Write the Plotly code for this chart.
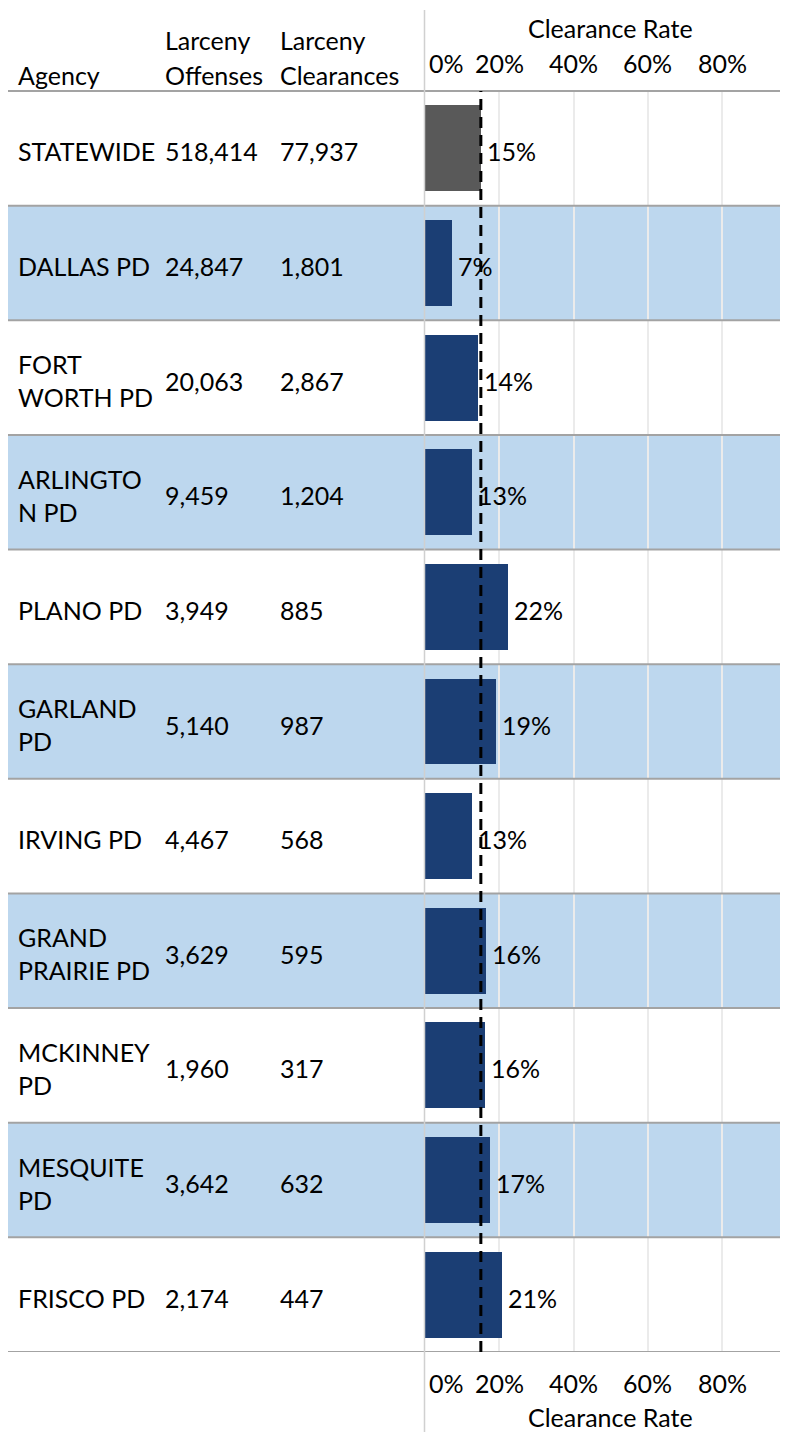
import plotly.graph_objects as go

# ---------------- data ----------------
agencies = ["STATEWIDE", "DALLAS PD", "FORT<br>WORTH PD", "ARLINGTO<br>N PD", "PLANO PD",
            "GARLAND<br>PD", "IRVING PD", "GRAND<br>PRAIRIE PD", "MCKINNEY<br>PD",
            "MESQUITE<br>PD", "FRISCO PD"]
offenses = [518414, 24847, 20063, 9459, 3949, 5140, 4467, 3629, 1960, 3642, 2174]
clearances = [77937, 1801, 2867, 1204, 885, 987, 568, 595, 317, 632, 447]
rates = [15.0, 7.2, 14.3, 12.7, 22.4, 19.2, 12.7, 16.4, 16.2, 17.4, 20.6]
rate_labels = ["15%", "7%", "14%", "13%", "22%", "19%", "13%", "16%", "16%", "17%", "21%"]
statewide_rate = 15.03
tick_vals = [0, 20, 40, 60, 80]
tick_labels = ["0%", "20%", "40%", "60%", "80%"]
axis_title = "Clearance Rate"
header_agency = "Agency"
header_line1 = ["Larceny", "Larceny"]
header_line2 = ["Offenses", "Clearances"]

# ---------------- layout constants (page pixel coords) ----------------
OFF = 8                      # browser body margin
PAGE_W, PAGE_H = 788, 1432
W, H = PAGE_W - OFF, PAGE_H - OFF
PLOT_X0, PLOT_X1 = 425, 788  # page coords of plot area
PLOT_Y0, PLOT_Y1 = 91, 1352
L, R = PLOT_X0 - OFF, 0
T, B = PLOT_Y0 - OFF, H - (PLOT_Y1 - OFF)
PW, PH = W - L - R, H - T - B
PX_PER_PCT = 3.716
FONT = "Lato"
FS = 25
NAVY = "#1b3e74"
GRAY = "#595959"
BAND = "#bdd7ee"
LINE = "#a3a3a3"


def px_x(px):
    return (px - OFF - L) / PW


def px_y(py):
    return (H - B - (py - OFF)) / PH


n = len(agencies)
ys = list(range(n))

fig = go.Figure()
fig.add_trace(go.Bar(
    x=rates, y=ys, orientation="h", width=0.75,
    marker=dict(color=[GRAY] + [NAVY] * (n - 1), line=dict(width=0)),
    hoverinfo="skip", showlegend=False,
))

shapes = []
for i in ys:
    if i % 2 == 1:
        shapes.append(dict(type="rect", xref="paper", yref="y", x0=px_x(8), x1=1,
                           y0=i - 0.5, y1=i + 0.5, fillcolor=BAND, line=dict(width=0),
                           layer="below"))
for i in ys:
    shapes.append(dict(type="line", xref="paper", yref="y", x0=px_x(8), x1=1,
                       y0=i + 0.5, y1=i + 0.5, line=dict(color=LINE, width=2), layer="above"))
shapes.append(dict(type="line", xref="paper", yref="paper", x0=px_x(8), x1=1,
                   y0=1, y1=1, line=dict(color=LINE, width=2), layer="above"))
shapes.append(dict(type="line", xref="paper", yref="paper", x0=px_x(424.5), x1=px_x(424.5),
                   y0=px_y(10), y1=px_y(PAGE_H), line=dict(color="#d0d0d0", width=1.5),
                   layer="above"))
shapes.append(dict(type="line", xref="x", yref="paper", x0=statewide_rate, x1=statewide_rate,
                   y0=0, y1=1, line=dict(color="black", width=3, dash="11px,7px"), layer="above"))

annotations = []
font = dict(family=FONT, size=FS, color="black")
col_x = [19, 166, 281]
for i in ys:
    vals = [agencies[i], f"{offenses[i]:,}", f"{clearances[i]:,}"]
    for cx, v in zip(col_x, vals):
        annotations.append(dict(text=v, xref="paper", yref="y", x=px_x(cx), y=i,
                                xanchor="left", yanchor="middle", align="left",
                                xshift=-3, yshift=-3, showarrow=False, font=font))
    annotations.append(dict(text=rate_labels[i], xref="x", yref="y", x=rates[i], y=i,
                            xanchor="left", yanchor="middle", xshift=4, yshift=-3,
                            showarrow=False, font=font))

# column headers
annotations.append(dict(text=header_agency, xref="paper", yref="paper", x=px_x(col_x[0]),
                        y=px_y(75), xanchor="left", yanchor="middle", xshift=-3,
                        showarrow=False, font=font))
for cx, h1, h2 in zip(col_x[1:], header_line1, header_line2):
    for py, h in [(40, h1), (75, h2)]:
        annotations.append(dict(text=h, xref="paper", yref="paper", x=px_x(cx), y=px_y(py),
                                xanchor="left", yanchor="middle", xshift=-3,
                                showarrow=False, font=font))

# axis ticks and titles (top and bottom)
for tick_py, title_py in [(63, 28), (1383, 1417)]:
    for v, lab in zip(tick_vals, tick_labels):
        annotations.append(dict(text=lab, xref="x", yref="paper", x=v, y=px_y(tick_py),
                                xanchor="left" if v == 0 else "center", yanchor="middle",
                                xshift=2 if v == 0 else 0, showarrow=False, font=font))
    annotations.append(dict(text=axis_title, xref="paper", yref="paper", x=px_x(610),
                            y=px_y(title_py), xanchor="center", yanchor="middle",
                            showarrow=False, font=font))

fig.update_layout(
    width=W, height=H,
    margin=dict(l=L, r=R, t=T, b=B, pad=0),
    paper_bgcolor="white", plot_bgcolor="rgba(0,0,0,0)",
    font=font,
    bargap=0,
    xaxis=dict(range=[0, PW / PX_PER_PCT], tickvals=tick_vals[1:], showticklabels=False,
               showgrid=True, gridcolor="#ebebeb", gridwidth=1.5, zeroline=False,
               showline=False, fixedrange=True),
    yaxis=dict(range=[n - 0.5, -0.5], showticklabels=False, showgrid=False,
               zeroline=False, showline=False, fixedrange=True),
    shapes=shapes,
    annotations=annotations,
)

fig.write_html("out.html")
